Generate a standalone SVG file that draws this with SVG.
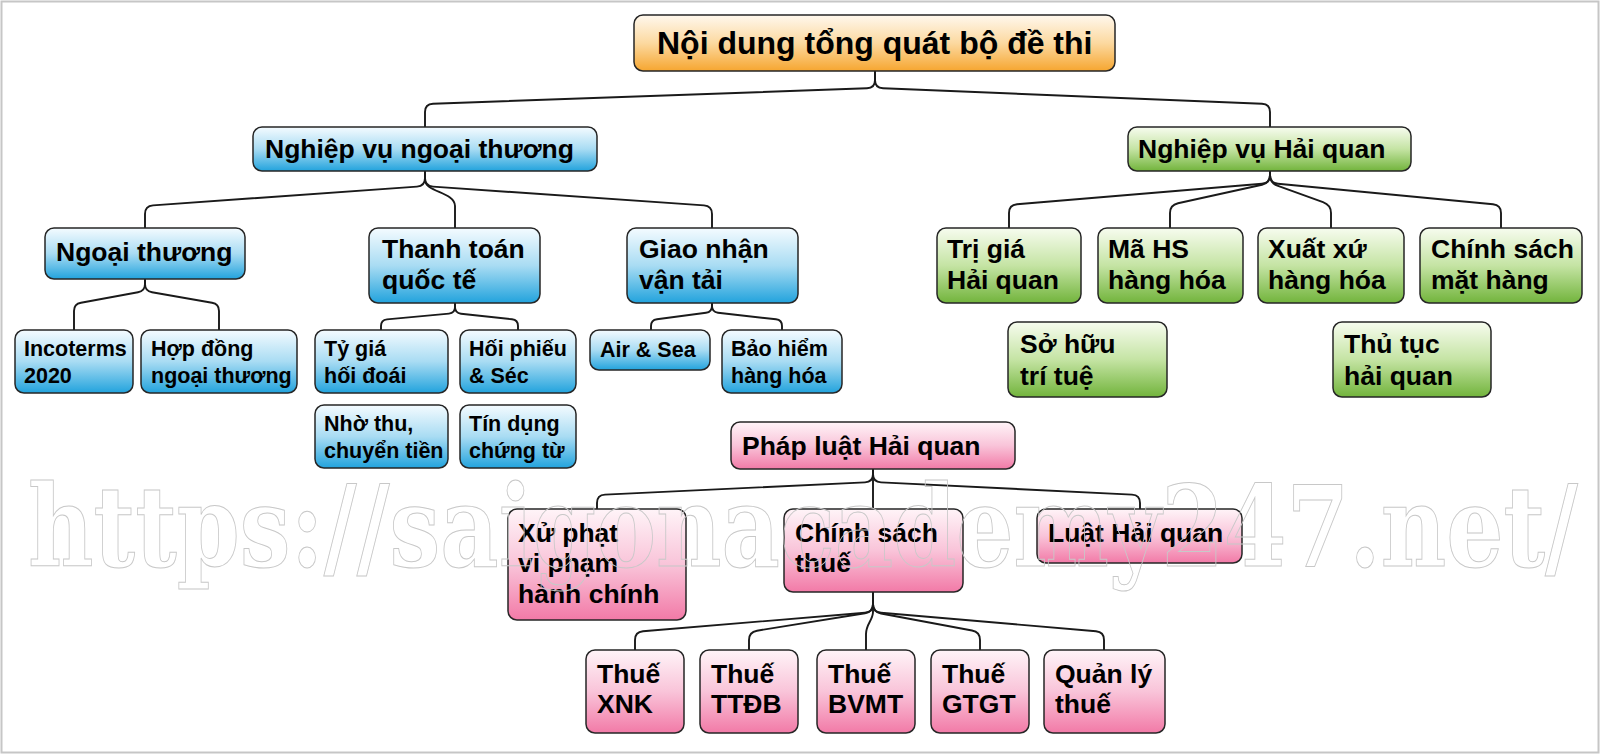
<svg xmlns="http://www.w3.org/2000/svg" width="1600" height="754" viewBox="0 0 1600 754">
<defs>
<linearGradient id="gO" x1="0" y1="0" x2="0" y2="1"><stop offset="0" stop-color="#fff8ee"/><stop offset="0.5" stop-color="#fcd9a0"/><stop offset="1" stop-color="#f6a630"/></linearGradient>
<linearGradient id="gB" x1="0" y1="0" x2="0" y2="1"><stop offset="0" stop-color="#f4fbff"/><stop offset="0.5" stop-color="#a9dcf3"/><stop offset="1" stop-color="#22a3dd"/></linearGradient>
<linearGradient id="gG" x1="0" y1="0" x2="0" y2="1"><stop offset="0" stop-color="#f7fcef"/><stop offset="0.5" stop-color="#c5e4a4"/><stop offset="1" stop-color="#72b43c"/></linearGradient>
<linearGradient id="gP" x1="0" y1="0" x2="0" y2="1"><stop offset="0" stop-color="#fff4f8"/><stop offset="0.5" stop-color="#f9c4d9"/><stop offset="1" stop-color="#f27aa7"/></linearGradient>
</defs>
<style>
.n rect{stroke:#262626;stroke-width:1.5}
.o rect{fill:url(#gO)}
.b rect{fill:url(#gB)}
.g rect{fill:url(#gG)}
.p rect{fill:url(#gP)}
text{font-family:"Liberation Sans","Noto Sans",Arial,sans-serif;font-weight:bold;fill:#000}
.t30{font-size:32px}
.t24{font-size:26.5px}
.t20{font-size:21.5px}
#connectors path{fill:none;stroke:#1a1a1a;stroke-width:1.9}
.wm{font-family:"DejaVu Serif","Liberation Serif",serif;font-weight:bold;font-size:112px;fill:none;stroke:#c8c8c8;stroke-width:1}
</style>
<rect x="0" y="0" width="1600" height="754" fill="#ffffff"/>
<rect x="1.5" y="1.5" width="1597" height="751" fill="none" stroke="#c6c6c6" stroke-width="2"/>

<g id="connectors">
<path d="M875,71 L875,80 Q875,88 867,88.3 L433,103.7 Q425,104 425,112 L425,127"/>
<path d="M875,71 L875,80 Q875,88 883,88.3 L1262,103.7 Q1270,104 1270,112 L1270,127"/>

<path d="M425,171 L425,178 Q425,186 417,186.6 L153,205.4 Q145,206 145,214 L145,228"/>
<path d="M425,171 L425,180 C425,192 455,192 455,206 L455,228"/>
<path d="M425,171 L425,178 Q425,186 433,186.6 L704,205.4 Q712,206 712,214 L712,228"/>

<path d="M145,279 L145,284 Q145,291 138,292.2 L81,302.8 Q74,304 74,311 L74,330"/>
<path d="M145,279 L145,284 Q145,291 152,292.2 L212,302.8 Q219,304 219,311 L219,330"/>

<path d="M455,303 L455,307 Q455,313 449,313.6 L387,319.4 Q381,320 381,326 L381,330"/>
<path d="M455,303 L455,307 Q455,313 461,313.7 L512,319.3 Q518,320 518,326 L518,330"/>

<path d="M712,303 L712,306 Q712,312 706,312.8 L657,319.2 Q651,320 651,326 L651,330"/>
<path d="M712,303 L712,306 Q712,312 718,312.7 L776,319.3 Q782,320 782,326 L782,330"/>

<path d="M1270,171 L1270,175 Q1270,183 1262,183.7 L1017,204.3 Q1009,205 1009,213 L1009,228"/>
<path d="M1270,171 L1270,175 Q1270,183 1262,184.8 L1178,203.2 Q1170,205 1170,213 L1170,228"/>
<path d="M1270,171 L1270,175 Q1270,183 1278,185.9 L1323,202.1 Q1331,205 1331,213 L1331,228"/>
<path d="M1270,171 L1270,175 Q1270,183 1278,183.8 L1493,204.2 Q1501,205 1501,213 L1501,228"/>

<path d="M873,469 L873,474 Q873,482 865,482.4 L605,494.6 Q597,495 597,503 L597,509"/>
<path d="M873,469 L873,509"/>
<path d="M873,469 L873,474 Q873,482 881,482.4 L1132,494.6 Q1140,495 1140,503 L1140,509"/>

<path d="M873,592 L873,604 Q873,612 865,612.7 L643,631.3 Q635,632 635,640 L635,650"/>
<path d="M873,592 L873,604 Q873,612 865,613.3 L757,630.7 Q749,632 749,640 L749,650"/>
<path d="M873,592 L873,612 C873,620 866,624 866,634 L866,650"/>
<path d="M873,592 L873,604 Q873,612 881,613.5 L972,630.5 Q980,632 980,640 L980,650"/>
<path d="M873,592 L873,604 Q873,612 881,612.7 L1096,631.3 Q1104,632 1104,640 L1104,650"/>
</g>

<g id="n-root" class="n o"><rect x="634" y="15" width="481" height="56" rx="9"/><text class="t30" x="657" y="54">Nội dung tổng quát bộ đề thi</text></g>

<g id="n-nvnt" class="n b"><rect x="253" y="127" width="344" height="44" rx="9"/><text class="t24" x="265" y="158">Nghiệp vụ ngoại thương</text></g>
<g id="n-nvhq" class="n g"><rect x="1128" y="127" width="283" height="44" rx="9"/><text class="t24" x="1138" y="158">Nghiệp vụ Hải quan</text></g>

<g id="n-ngoaithuong" class="n b"><rect x="45" y="228" width="200" height="51" rx="9"/><text class="t24" x="56" y="261">Ngoại thương</text></g>
<g id="n-thanhtoan" class="n b"><rect x="369" y="228" width="171" height="75" rx="9"/><text class="t24" x="382" y="258">Thanh toán</text><text class="t24" x="382" y="289">quốc tế</text></g>
<g id="n-giaonhan" class="n b"><rect x="627" y="228" width="171" height="75" rx="9"/><text class="t24" x="639" y="258">Giao nhận</text><text class="t24" x="639" y="289">vận tải</text></g>

<g id="n-incoterms" class="n b"><rect x="15" y="330" width="118" height="63" rx="9"/><text class="t20" x="24" y="356">Incoterms</text><text class="t20" x="24" y="383">2020</text></g>
<g id="n-hopdong" class="n b"><rect x="141" y="330" width="156" height="63" rx="9"/><text class="t20" x="151" y="356">Hợp đồng</text><text class="t20" x="151" y="383">ngoại thương</text></g>
<g id="n-tygia" class="n b"><rect x="315" y="330" width="133" height="63" rx="9"/><text class="t20" x="324" y="356">Tỷ giá</text><text class="t20" x="324" y="383">hối đoái</text></g>
<g id="n-hoiphieu" class="n b"><rect x="460" y="330" width="116" height="63" rx="9"/><text class="t20" x="469" y="356">Hối phiếu</text><text class="t20" x="469" y="383">&amp; Séc</text></g>
<g id="n-nhothu" class="n b"><rect x="315" y="405" width="133" height="63" rx="9"/><text class="t20" x="324" y="431">Nhờ thu,</text><text class="t20" x="324" y="458">chuyển tiền</text></g>
<g id="n-tindung" class="n b"><rect x="460" y="405" width="116" height="63" rx="9"/><text class="t20" x="469" y="431">Tín dụng</text><text class="t20" x="469" y="458">chứng từ</text></g>
<g id="n-airsea" class="n b"><rect x="590" y="330" width="120" height="40" rx="9"/><text class="t20" x="600" y="357">Air &amp; Sea</text></g>
<g id="n-baohiem" class="n b"><rect x="722" y="330" width="120" height="63" rx="9"/><text class="t20" x="731" y="356">Bảo hiểm</text><text class="t20" x="731" y="383">hàng hóa</text></g>

<g id="n-trigia" class="n g"><rect x="937" y="228" width="144" height="75" rx="9"/><text class="t24" x="947" y="258">Trị giá</text><text class="t24" x="947" y="289">Hải quan</text></g>
<g id="n-mahs" class="n g"><rect x="1098" y="228" width="145" height="75" rx="9"/><text class="t24" x="1108" y="258">Mã HS</text><text class="t24" x="1108" y="289">hàng hóa</text></g>
<g id="n-xuatxu" class="n g"><rect x="1258" y="228" width="146" height="75" rx="9"/><text class="t24" x="1268" y="258">Xuất xứ</text><text class="t24" x="1268" y="289">hàng hóa</text></g>
<g id="n-chinhsachmh" class="n g"><rect x="1420" y="228" width="162" height="75" rx="9"/><text class="t24" x="1431" y="258">Chính sách</text><text class="t24" x="1431" y="289">mặt hàng</text></g>
<g id="n-sohuu" class="n g"><rect x="1008" y="322" width="159" height="75" rx="9"/><text class="t24" x="1020" y="353">Sở hữu</text><text class="t24" x="1020" y="385">trí tuệ</text></g>
<g id="n-thutuc" class="n g"><rect x="1333" y="322" width="158" height="75" rx="9"/><text class="t24" x="1344" y="353">Thủ tục</text><text class="t24" x="1344" y="385">hải quan</text></g>

<g id="n-phapluat" class="n p"><rect x="731" y="422" width="284" height="47" rx="9"/><text class="t24" x="742" y="455">Pháp luật Hải quan</text></g>
<g id="n-xuphat" class="n p"><rect x="508" y="509" width="178" height="111" rx="9"/><text class="t24" x="518" y="542">Xử phạt</text><text class="t24" x="518" y="572">vi phạm</text><text class="t24" x="518" y="603">hành chính</text></g>
<g id="n-chinhsachthue" class="n p"><rect x="784" y="509" width="179" height="83" rx="9"/><text class="t24" x="795" y="542">Chính sách</text><text class="t24" x="795" y="572">thuế</text></g>
<g id="n-luathq" class="n p"><rect x="1037" y="509" width="205" height="54" rx="9"/><text class="t24" x="1048" y="542">Luật Hải quan</text></g>

<g id="n-xnk" class="n p"><rect x="586" y="650" width="98" height="83" rx="9"/><text class="t24" x="597" y="683">Thuế</text><text class="t24" x="597" y="713">XNK</text></g>
<g id="n-ttdb" class="n p"><rect x="700" y="650" width="98" height="83" rx="9"/><text class="t24" x="711" y="683">Thuế</text><text class="t24" x="711" y="713">TTĐB</text></g>
<g id="n-bvmt" class="n p"><rect x="817" y="650" width="98" height="83" rx="9"/><text class="t24" x="828" y="683">Thuế</text><text class="t24" x="828" y="713">BVMT</text></g>
<g id="n-gtgt" class="n p"><rect x="931" y="650" width="98" height="83" rx="9"/><text class="t24" x="942" y="683">Thuế</text><text class="t24" x="942" y="713">GTGT</text></g>
<g id="n-quanly" class="n p"><rect x="1044" y="650" width="121" height="83" rx="9"/><text class="t24" x="1055" y="683">Quản lý</text><text class="t24" x="1055" y="713">thuế</text></g>

<text class="wm" x="28" y="566" textLength="1550" lengthAdjust="spacingAndGlyphs">https://saigonacademy247.net/</text>
</svg>
